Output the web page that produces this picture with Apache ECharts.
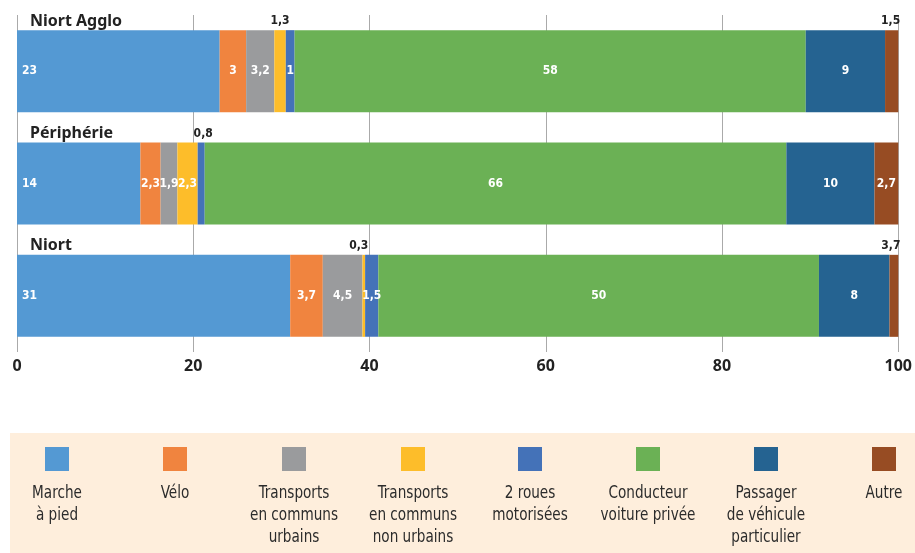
<!DOCTYPE html>
<html><head><meta charset="utf-8">
<script src="https://cdn.jsdelivr.net/npm/echarts@6/dist/echarts.min.js"></script>
<style>html,body{margin:0;padding:0;background:#fff}#c{width:915px;height:553px}</style>
</head><body><div id="c"></div>
<script>
var categories = ['Niort Agglo', 'Périphérie', 'Niort'];
var seriesNames = ['Marche à pied', 'Vélo', 'Transports en communs urbains', 'Transports en communs non urbains', '2 roues motorisées', 'Conducteur voiture privée', 'Passager de véhicule particulier', 'Autre'];
var legendLabels = ['Marche\nà pied', 'Vélo', 'Transports\nen communs\nurbains', 'Transports\nen communs\nnon urbains', '2 roues\nmotorisées', 'Conducteur\nvoiture privée', 'Passager\nde véhicule\nparticulier', 'Autre'];
var marche = [23, 14, 31];
var velo = [3, 2.3, 3.7];
var tcUrbains = [3.2, 1.9, 4.5];
var tcNonUrbains = [1.3, 2.3, 0.3];
var deuxRoues = [1, 0.8, 1.5];
var conducteur = [58, 66, 50];
var passager = [9, 10, 8];
var autre = [1.5, 2.7, 3.7];
var xTicks = [0, 20, 40, 60, 80, 100];

var colors = ['#5499d3', '#f0843f', '#9a9b9d', '#fdbd2a', '#4472b8', '#6bb155', '#256391', '#974c23'];
var allData = [marche, velo, tcUrbains, tcNonUrbains, deuxRoues, conducteur, passager, autre];
// labels drawn above the bar (series index -> category index -> offset)
var outside = {'3-0': [0, 0], '4-1': [2, 0], '3-2': [-5, 0], '7-0': [-1, 0], '7-2': [-3, 0]};
var narrow = "'Liberation Sans Narrow', 'DejaVu Sans Condensed', 'Roboto Condensed', sans-serif";
var heavy = "'Noto Sans', 'Open Sans', sans-serif";
var fmt = function (v) { return String(v).replace('.', ','); };

var series = allData.map(function (arr, si) {
  return {
    name: seriesNames[si], type: 'bar', stack: 'total', barWidth: 82,
    itemStyle: {color: colors[si]},
    data: arr.map(function (v, ci) {
      var key = si + '-' + ci;
      var lab;
      if (outside[key]) {
        lab = {show: true, position: 'top', distance: 3, offset: outside[key], color: '#222', fontWeight: 'bold', fontSize: 12, fontFamily: narrow, formatter: function (p) { return fmt(p.value); }};
      } else {
        lab = {show: true, position: si === 0 ? 'insideLeft' : 'inside', distance: 5, color: '#fff', fontWeight: 'bold', fontSize: 12, fontFamily: narrow, formatter: function (p) { return fmt(p.value); }};
      }
      return {value: v, label: lab};
    })
  };
});

var legendCenters = [57, 175, 294, 413, 530, 648, 766, 884];
var legends = seriesNames.map(function (n, i) {
  return {data: [n], left: legendCenters[i] - 12, top: 447, padding: 0, icon: 'rect', itemWidth: 24, itemHeight: 24, selectedMode: false, formatter: function () { return ''; }, textStyle: {fontSize: 1}};
});

var graphics = [{type: 'rect', left: 10, top: 433, z: -10, shape: {width: 905, height: 120}, style: {fill: '#feeedc'}}];
legendLabels.forEach(function (t, i) {
  graphics.push({type: 'text', x: legendCenters[i], y: 482, scaleX: 0.84, style: {text: t, align: 'center', verticalAlign: 'top', fill: '#2b2b2b', fontSize: 18, lineHeight: 22, fontFamily: narrow}});
});

var chart = echarts.init(document.getElementById('c'));
chart.setOption({
  animation: false,
  grid: {left: 17, right: 16, top: 15, bottom: 201, containLabel: false},
  xAxis: {type: 'value', min: xTicks[0], max: xTicks[xTicks.length - 1], interval: 20,
    axisLine: {show: false}, axisTick: {show: false},
    splitLine: {show: true, lineStyle: {color: '#aaaaaa', width: 1}},
    axisLabel: {margin: 6, color: '#222', fontWeight: 'bold', fontSize: 16, fontFamily: heavy}},
  yAxis: {type: 'category', data: categories, inverse: true, z: 10,
    axisLine: {show: false}, axisTick: {show: false},
    axisLabel: {interval: 0, hideOverlap: false, inside: true, margin: 13, align: 'left', verticalAlign: 'middle',
      formatter: function (v) { return '{t|' + v + '}\n{s|}'; },
      rich: {t: {color: '#222', fontWeight: 'bold', fontSize: 16, lineHeight: 18, fontFamily: heavy}, s: {height: 100, lineHeight: 100}}}},
  legend: legends,
  graphic: graphics,
  series: series
});
</script></body></html>
